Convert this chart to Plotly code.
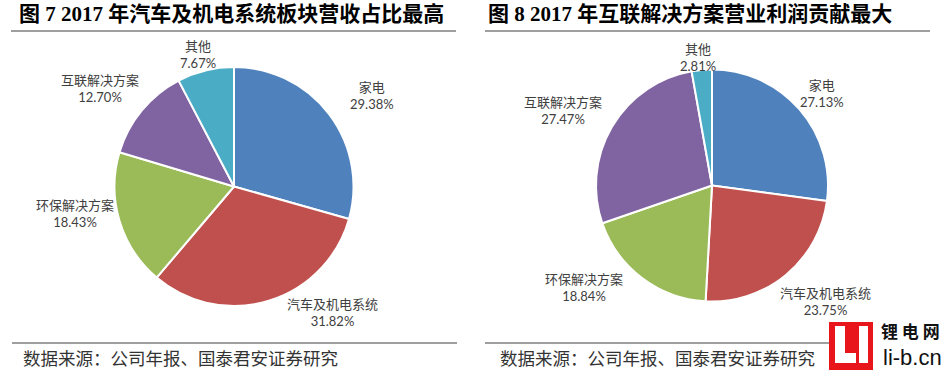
import plotly.graph_objects as go

W, H = 944, 370

# ---- data ----
categories = ["家电", "汽车及机电系统", "环保解决方案", "互联解决方案", "其他"]
revenue_share = [29.38, 31.82, 18.43, 12.70, 7.67]      # 图7 营收占比 (%)
profit_share = [27.13, 23.75, 18.84, 27.47, 2.81]       # 图8 营业利润占比 (%)
title_left = "图 7 2017 年汽车及机电系统板块营收占比最高"
title_right = "图 8 2017 年互联解决方案营业利润贡献最大"
source_text = "数据来源：公司年报、国泰君安证券研究"

colors = ["#4F81BD", "#C0504D", "#9BBB59", "#8064A2", "#4BACC6"]

# ---- layout helpers (pixel -> paper) ----
def px(x):
    return x / W

def py(y):
    return 1 - y / H

# pie geometry (center x, center y, radius) in pixels
pies = [
    (234, 186.5, 119.5),
    (712, 185.5, 116),
]
# label centres in pixels for each pie, one per category
label_pos = [
    [(372, 95), (332, 312), (75, 213), (100, 88), (198, 54)],
    [(822, 93), (825, 301), (584, 287), (563, 110), (698, 58)],
]

fig = go.Figure()
for (cx, cy, r), vals in zip(pies, [revenue_share, profit_share]):
    fig.add_trace(go.Pie(
        labels=categories,
        values=vals,
        sort=False,
        direction="clockwise",
        rotation=0,
        marker=dict(colors=colors, line=dict(color="white", width=2)),
        textinfo="none",
        hoverinfo="label+percent",
        showlegend=False,
        domain=dict(x=[px(cx - r), px(cx + r)], y=[py(cy + r), py(cy - r)]),
    ))

annotations = []
label_font = dict(family="Lato, Noto Sans CJK SC, sans-serif", size=13, color="#404040")
for positions, vals in zip(label_pos, [revenue_share, profit_share]):
    for (lx, ly), cat, v in zip(positions, categories, vals):
        annotations.append(dict(
            x=px(lx), y=py(ly), xref="paper", yref="paper",
            text=f"{cat}<br>{v:.2f}%", showarrow=False,
            xanchor="center", yanchor="middle", align="center",
            font=label_font,
        ))

title_font = dict(family="Liberation Serif, Noto Sans CJK SC, serif", size=21, color="#000000", weight="bold")
for tx, t in [(17, title_left), (486, title_right)]:
    annotations.append(dict(
        x=px(tx), y=py(14), xref="paper", yref="paper", text=t, showarrow=False,
        xanchor="left", yanchor="middle", font=title_font,
    ))

src_font = dict(family="Noto Sans CJK SC, sans-serif", size=17.5, color="#333333")
for sx in [21, 498]:
    annotations.append(dict(
        x=px(sx), y=py(357), xref="paper", yref="paper", text=source_text, showarrow=False,
        xanchor="left", yanchor="middle", font=src_font,
    ))

# watermark logo text
annotations.append(dict(
    x=px(910), y=py(330), xref="paper", yref="paper", text="锂 电 网", showarrow=False,
    xanchor="center", yanchor="middle",
    font=dict(family="Noto Sans CJK SC, sans-serif", size=17, color="#111111", weight="bold"),
))
annotations.append(dict(
    x=px(912), y=py(357), xref="paper", yref="paper", text="li-b.cn", showarrow=False,
    xanchor="center", yanchor="middle",
    font=dict(family="Liberation Sans, sans-serif", size=22, color="#111111"),
))

shapes = []
line_style = dict(color="#7F7F7F", width=1.6)
for x0, x1 in [(11, 456), (485, 930)]:
    shapes.append(dict(type="line", xref="paper", yref="paper",
                       x0=px(x0), x1=px(x1), y0=py(31), y1=py(31), line=line_style))
for x0, x1 in [(12, 457), (485, 832)]:
    shapes.append(dict(type="line", xref="paper", yref="paper",
                       x0=px(x0), x1=px(x1), y0=py(343), y1=py(343), line=line_style))

# logo boxes
def rect(x0, y0, x1, y1, color):
    return dict(type="rect", xref="paper", yref="paper",
                x0=px(x0), x1=px(x1), y0=py(y1), y1=py(y0),
                fillcolor=color, line=dict(width=0), layer="above")

shapes += [
    rect(829, 322, 873, 370, "#E8161B"),
    rect(835, 326, 845, 363, "#FFFFFF"),
    rect(835, 353, 856, 363, "#FFFFFF"),
    rect(859, 326, 868, 363, "#FFFFFF"),
]

fig.update_layout(
    width=W, height=H,
    margin=dict(l=0, r=0, t=0, b=0),
    paper_bgcolor="white", plot_bgcolor="white",
    annotations=annotations,
    shapes=shapes,
)

fig.write_html(
    "out.html",
    config={"displayModeBar": False},
    post_script="document.body.style.margin='0';document.body.style.padding='0';document.body.style.overflow='hidden';",
)
